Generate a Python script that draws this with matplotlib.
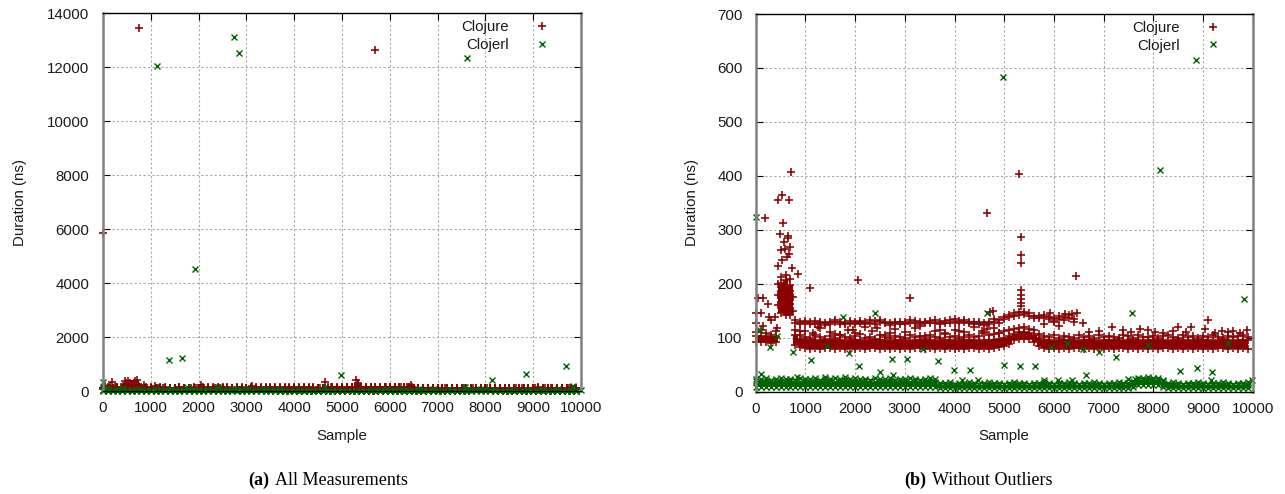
import matplotlib
matplotlib.use('Agg')
import matplotlib.pyplot as plt
import numpy as np

# ---------------- data ----------------
bin_samples = list(range(0, 10000, 100))

# Clojure dense band: lower row, upper row, ragged top row (ns)
clojure_lo = [
    92, 93, 92, 91, 92, 145, 143, 142, 86, 82,
    81, 80, 81, 80, 81, 81, 80, 81, 80, 81,
    80, 81, 80, 81, 81, 80, 81, 80, 81, 80,
    81, 80, 81, 81, 80, 81, 80, 81, 80, 81,
    80, 81, 80, 81, 81, 80, 81, 80, 81, 82,
    84, 88, 95, 98, 98, 97, 92, 85, 81, 80,
    81, 80, 81, 80, 81, 81, 80, 81, 80, 81,
    80, 81, 80, 81, 81, 80, 81, 80, 81, 80,
    81, 80, 81, 81, 80, 81, 80, 81, 80, 81,
    80, 81, 80, 81, 81, 80, 81, 80, 81, 80]
clojure_hi = [
    103, 104, 102, 101, 102, 202, 207, 198, 106, 98,
    95, 96, 95, 94, 96, 95, 95, 96, 94, 95,
    96, 95, 94, 96, 95, 95, 96, 94, 95, 96,
    95, 94, 96, 95, 95, 96, 94, 95, 96, 95,
    94, 96, 95, 95, 96, 94, 95, 96, 95, 97,
    99, 103, 107, 110, 111, 109, 105, 99, 96, 95,
    94, 96, 95, 95, 96, 94, 95, 96, 95, 94,
    96, 95, 95, 96, 94, 95, 96, 95, 94, 96,
    95, 95, 96, 94, 95, 96, 95, 94, 96, 95,
    95, 96, 94, 95, 96, 95, 94, 96, 95, 96]
clojure_top = [
    110, 114, 108, 106, 112, 213, 216, 208, 114, 106,
    102, 99, 105, 101, 98, 104, 100, 106, 101, 99,
    103, 107, 100, 102, 98, 105, 101, 99, 104, 102,
    100, 106, 101, 103, 99, 105, 102, 100, 107, 101,
    104, 99, 102, 106, 101, 103, 108, 105, 107, 109,
    112, 114, 116, 118, 119, 117, 114, 107, 103, 101,
    105, 100, 104, 102, 99, 106, 101, 103, 100, 105,
    102, 104, 101, 99, 106, 103, 100, 105, 102, 101,
    104, 100, 103, 106, 101, 99, 105, 102, 104, 100,
    103, 101, 105, 102, 100, 104, 101, 103, 106, 102]
# Clojure secondary line (~130 ns), two jittered rows, None where absent
clojure_upper = [None] * 8 + [
    133, 130, 128, 126, 131, 127, 128, 129, 130, 126,
    128, 131, 125, 127, 130, 133, 131, 129, 127, 128,
    130, 126, 129, 132, 128, 130, 127, 131, 133, 130,
    128, 132, 134, 131, 129, 127, 130, 126, 124, 129,
    135, 133,
    138, 142, 146, 148, 147, 145, 141, 140, 142, 138,
    136, 140, 138, 142, 135] + [None] * 35
clojure_upper2 = [None] * 8 + [
    128, 125, 131, 129, 126, 130, 124, 126, 133, 129,
    125, 127, 129, 131, 126, 128, 126, 133, 130, 124,
    127, 130, 125, 128, 131, 126, 130, 128, 127, 125,
    131, 128, 129, 127, 132, 130, 126, 129, 128, 126,
    130, 128,
    134, 138, 141, 143, 144, 141, 137, 136, 138, 134,
    131, 135, 133, 137, 130] + [None] * 35

# Clojure scattered points
clojure_scatter_x = [
    0, 13, 46, 113, 147, 150, 193, 241, 274, 300, 380, 420,
    456, 523, 670, 704, 556, 489, 644, 657, 576, 690, 590, 509, 670, 624,
    537, 456, 724, 851, 1093,
    450, 450, 450, 500, 500, 500, 550, 550, 550, 600, 600, 600, 650, 650, 650,
    700, 700, 700, 750, 750,
    900, 1150, 1300, 1500, 1700, 1850, 2000, 2200, 2350, 2600, 2800, 3000,
    3200, 3400, 3600, 3800, 4000, 4200, 4400, 4550, 4800, 4900,
    1000, 1250, 1600, 1950, 2450, 2700, 3300, 3700, 4100, 4650,
    2060, 3110, 4648, 4715, 4775,
    5298, 5340, 5340, 5340, 5340, 5340, 5340, 5340, 5340,
    5920, 6225, 6360, 6460, 6445, 6592, 7163, 7733, 8034, 8400, 8503, 8759,
    9040, 9107, 9375, 9600, 9879, 5800, 6000, 6100, 6700, 6900, 7400, 7550,
    7900, 8200, 8650, 9250, 9500, 9750,
    0, 753, 5690]
clojure_scatter_y = [
    127, 146, 173, 146, 173, 121, 322, 163, 139, 133, 138, 118,
    356, 364, 356, 408, 312, 292, 288, 284, 278, 269, 264, 263, 255, 250,
    244, 233, 229, 218, 192,
    160, 180, 200, 162, 175, 187, 162, 175, 187, 162, 175, 187, 162, 175, 187,
    162, 175, 187, 150, 175,
    112, 108, 118, 110, 105, 115, 108, 120, 112, 106, 116, 110,
    118, 104, 112, 108, 115, 110, 120, 112, 118, 108,
    113, 119, 107, 114, 118, 109, 121, 115, 112, 117,
    207, 174, 332, 148, 150,
    403, 286, 253, 239, 188, 180, 172, 165, 158,
    145, 144, 144, 146, 214, 127, 119, 117, 111, 113, 119, 119,
    117, 132, 112, 112, 114, 125, 130, 122, 110, 112, 114, 110,
    115, 108, 110, 108, 110, 108,
    5850, 13460, 12644]

# Clojerl dense band
clojerl_lo = [8] * 37 + [7] * 39 + [8, 12, 12, 12, 12, 12, 8] + [7] * 17
clojerl_hi = [19, 18, 19, 19, 18, 19, 18, 19, 19, 18,
              19, 18, 19, 19, 18, 19, 18, 19, 19, 18,
              19, 18, 19, 19, 18, 19, 18, 19, 19, 18,
              19, 18, 19, 19, 18, 19, 18] + [13] * 39 + \
             [17, 21, 22, 21, 22, 21, 15] + [13] * 17
clojerl_top = [24, 23, 25, 22, 24, 26, 23, 24, 22, 25,
               23, 24, 26, 22, 24, 23, 25, 24, 22, 23,
               25, 24, 23, 22, 26, 24, 23, 25, 22, 24,
               23, 25, 24, 22, 23, 26, 24,
               17, 16, 18, 15, 17, 16, 18, 17, 15, 16,
               18, 17, 16, 15, 17, 18, 16, 17, 15, 16,
               17, 18, 16, 15, 17, 16, 18, 17, 15, 16,
               17, 18, 16, 15, 17, 16, 18, 17, 16,
               20, 25, 26, 27, 26, 25, 19,
               16, 18, 17, 15, 17, 16, 18, 17, 15, 16,
               17, 18, 16, 15, 17, 16, 18]

clojerl_scatter_x = [
    0, 86, 107, 288, 422, 757, 825, 1106, 1394, 1428, 1750, 1797, 1884, 2085,
    2400, 2501, 2736, 2770, 3038, 3360, 3675, 3997, 4145, 4318, 4480, 4653,
    4970, 4996, 5318, 5620, 5807, 5942, 6090, 6258, 6358, 6592, 6640, 6914,
    7243, 7490, 7565, 7640, 7900, 8135, 8200, 8538, 8853, 8873, 9170, 9188,
    9510, 9832, 9990,
    1130, 1380, 1660, 1925, 2740, 2845, 7615, 9680]
clojerl_scatter_y = [
    323, 114, 33, 83, 104, 74, 27, 59, 28, 85, 139, 28, 71, 48,
    145, 36, 60, 31, 60, 80, 57, 40, 22, 40, 22, 145,
    584, 49, 48, 48, 22, 82, 22, 90, 22, 79, 31, 74,
    65, 23, 145, 23, 87, 410, 22, 39, 614, 43, 22, 36,
    91, 171, 22,
    12050, 1150, 1215, 4512, 13125, 12530, 12350, 927]

series_names = ["Clojure", "Clojerl"]
panel_titles = ["All Measurements", "Without Outliers"]
panel_tags = ["(a)", "(b)"]
panel_ymax = [14000, 700]
panel_ystep = [2000, 100]
x_ticks = list(range(0, 10001, 1000))

RED = '#8b0000'
GREEN = '#006400'


def collect(rows, extra_x, extra_y):
    xs, ys = [], []
    for row in rows:
        for s, v in zip(bin_samples, row):
            if v is not None:
                xs.append(s)
                ys.append(v)
    xs += extra_x
    ys += extra_y
    return np.array(xs, float), np.array(ys, float)


clj_x, clj_y = collect((clojure_lo, clojure_hi, clojure_top, clojure_upper,
                        clojure_upper2),
                       clojure_scatter_x, clojure_scatter_y)
erl_x, erl_y = collect((clojerl_lo, clojerl_hi, clojerl_top),
                       clojerl_scatter_x, clojerl_scatter_y)

plt.rcParams['font.family'] = ['Liberation Sans', 'DejaVu Sans']
TXT = '#1a1a1a'

fig = plt.figure(figsize=(12.85, 4.94), dpi=100)
W, H = 1285.0, 494.0
rects = [
    [103 / W, (H - 391.0) / H, 478 / W, 377.5 / H],
    [755.7 / W, (H - 391.7) / H, 497 / W, 377.7 / H],
]
ylabel_x = [-0.158, -0.114]
ypads = [10, 9.5]
bins = np.array(bin_samples, float)

for i, rect in enumerate(rects):
    ax = fig.add_axes(rect)
    ymax = panel_ymax[i]
    # dense bands (many overlapping points) as filled envelopes
    ax.fill_between(bins, clojure_lo, clojure_hi, step='mid', color=RED,
                    lw=0, zorder=1.9)
    ax.fill_between(bins, clojerl_lo, clojerl_hi, step='mid', color=GREEN,
                    lw=0, zorder=2.05)
    m1 = clj_y <= ymax
    m2 = erl_y <= ymax
    ax.plot(clj_x[m1], clj_y[m1], ls='none', marker='+', ms=5.4, mew=1.15,
            color=RED, clip_on=False, zorder=2, label=series_names[0])
    ax.plot(erl_x[m2], erl_y[m2], ls='none', marker='x', ms=4.6, mew=1.0,
            color=GREEN, clip_on=False, zorder=2.1, label=series_names[1])
    ax.set_xlim(0, 10000)
    ax.set_ylim(0, ymax)
    ax.set_xticks(x_ticks)
    ax.set_yticks(list(range(0, ymax + 1, panel_ystep[i])))
    ax.grid(True, ls=(0, (2, 2)), color='#a8a8a8', lw=0.8)
    ax.set_axisbelow(True)
    ax.tick_params(direction='in', length=5, width=0.8, top=True, right=True,
                   labelsize=10.8, labelcolor=TXT, color='black')
    ax.tick_params(axis='y', pad=ypads[i])
    ax.tick_params(axis='x', pad=7.5)
    for side in ('left', 'right'):
        ax.spines[side].set_color('#808080')
        ax.spines[side].set_linewidth(1.8)
    for side in ('top', 'bottom'):
        ax.spines[side].set_color('black')
        ax.spines[side].set_linewidth(1.0)
    ax.set_xlabel('Sample', fontsize=10.8, color=TXT)
    ax.xaxis.set_label_coords(0.5, -0.10)
    ax.set_ylabel('Duration (ns)', fontsize=10.8, color=TXT)
    ax.yaxis.set_label_coords(ylabel_x[i], 0.5)
    leg = ax.legend(loc='upper right', bbox_to_anchor=(0.95, 0.982),
                    markerfirst=False, frameon=False, fontsize=10.8,
                    handlelength=2.0, handletextpad=1.2, labelspacing=0.25,
                    borderpad=0, borderaxespad=0, numpoints=1)
    for t in leg.get_texts():
        t.set_color(TXT)

# captions: bold tag + regular title, centred under each panel
renderer = fig.canvas.get_renderer()
caption_center = [328, 978]
serif = ['Liberation Serif', 'DejaVu Serif']
for i in range(2):
    t1 = fig.text(0, 0.028, panel_tags[i], fontsize=13, fontweight='bold',
                  family=serif, ha='left', va='center')
    t2 = fig.text(0, 0.028, panel_titles[i], fontsize=13, family=serif,
                  ha='left', va='center')
    w1 = t1.get_window_extent(renderer).width
    w2 = t2.get_window_extent(renderer).width
    gap = 6
    x0 = caption_center[i] - (w1 + gap + w2) / 2
    t1.set_x(x0 / W)
    t2.set_x((x0 + w1 + gap) / W)

fig.savefig('out.png', dpi=100)
